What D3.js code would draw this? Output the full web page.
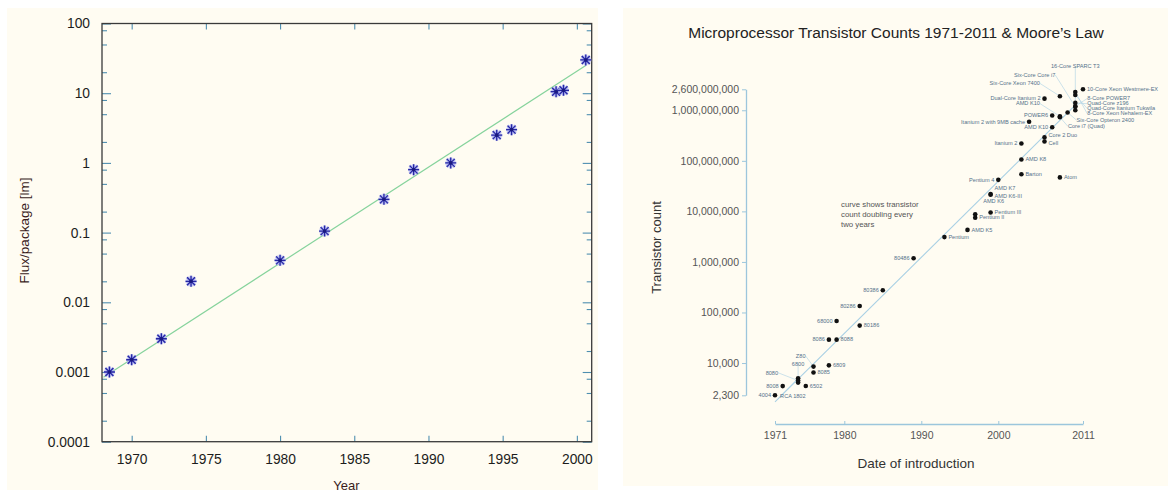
<!DOCTYPE html>
<html>
<head>
<meta charset="utf-8">
<script src="https://cdn.jsdelivr.net/npm/d3@7"></script>
<style>
  body { margin: 0; background: #ffffff; }
  svg { display: block; font-family: "Liberation Sans", Arial, sans-serif; }
</style>
</head>
<body>
<div class="board"></div>
<script>
// ---- left chart data (flux per package) ----
const fluxYears  = [1968.5, 1970, 1972, 1974, 1980, 1983, 1987, 1989, 1991.5, 1994.6, 1995.6, 1998.6, 1999.1, 2000.6];
const fluxValues = [0.001, 0.0015, 0.003, 0.02, 0.04, 0.105, 0.3, 0.8, 1.0, 2.5, 3.0, 10.5, 11, 30];
const fitYears   = [1968.1, 2000.6];
const fitValues  = [0.00084, 25];
const fluxTicks  = [0.0001, 0.001, 0.01, 0.1, 1, 10, 100];
const fluxTickLabels = ["0.0001", "0.001", "0.01", "0.1", "1", "10", "100"];
const minorSteps = [2, 5, 8];
const yearTicks  = [1970, 1975, 1980, 1985, 1990, 1995, 2000];

// ---- right chart data (transistor counts) ----
const chipNames = ["4004", "8008", "RCA 1802", "6800", "8080", "6502", "Z80", "8085", "6809", "8086",
  "8088", "68000", "80186", "80286", "80386", "80486", "Pentium", "AMD K5", "Pentium II", "AMD K6",
  "Pentium III", "AMD K6-III", "AMD K7", "Pentium 4", "Barton", "Atom", "AMD K8", "Itanium 2", "Cell", "Core 2 Duo",
  "Itanium 2 with 9MB cache", "AMD K10", "POWER6", "Core i7 (Quad)", "AMD K10", "Six-Core Opteron 2400",
  "Dual-Core Itanium 2", "Six-Core Xeon 7400", "Six-Core Core i7", "8-Core POWER7", "Quad-Core z196",
  "Quad-Core Itanium Tukwila", "8-Core Xeon Nehalem-EX", "16-Core SPARC T3", "10-Core Xeon Westmere-EX"];
const chipYears = [1971, 1972, 1974, 1974, 1974, 1975, 1976, 1976, 1978, 1978,
  1979, 1979, 1982, 1982, 1985, 1989, 1993, 1996, 1997, 1997,
  1999, 1999, 1999, 2000, 2003, 2008, 2003, 2003, 2006, 2006,
  2004, 2007, 2007, 2008, 2008, 2009,
  2006, 2008, 2010, 2010, 2010,
  2010, 2010, 2010, 2011];
const chipCounts = [2300, 3500, 5000, 4100, 4500, 3510, 8500, 6500, 9000, 29000,
  29000, 68000, 55000, 134000, 275000, 1180000, 3100000, 4300000, 7500000, 8800000,
  9500000, 21300000, 22000000, 42000000, 54300000, 47000000, 105900000, 220000000, 241000000, 291000000,
  592000000, 463000000, 789000000, 731000000, 758000000, 904000000,
  1700000000, 1900000000, 1170000000, 1200000000, 1400000000,
  2000000000, 2300000000, 1000000000, 2600000000];
const mooreYears  = [1971, 2010];
const mooreCounts = [1700, 1260000000];
const countTicks  = [2300, 10000, 100000, 1000000, 10000000, 100000000, 1000000000, 2600000000];
const dateTicks   = [1971, 1980, 1990, 2000, 2011];
const noteLines   = ["curve shows transistor", "count doubling every", "two years"];

const svg = d3.select('.board').append('svg')
  .attr('width', 1168)
  .attr('height', 493);

// cream panels
svg.append('rect').attr('x', 7).attr('y', 8).attr('width', 591).attr('height', 482).attr('fill', '#fffcf2');
svg.append('rect').attr('x', 623).attr('y', 8).attr('width', 545).attr('height', 478).attr('fill', '#fffcf2');

// ================= left chart =================
const xL = d3.scaleLinear().domain([1968, 2001]).range([102, 591.7]);
const yL = d3.scaleLog().domain([0.0001, 100]).range([441.7, 23.5]);
const tickBlue = '#4f8fb0';

const minorVals = [];
fluxTicks.slice(0, -1).forEach(t => minorSteps.forEach(m => minorVals.push(t * m)));

const left = svg.append('g');

// minor y ticks, left and right
left.append('g').attr('transform', `translate(${xL.range()[0]},0)`)
  .call(d3.axisLeft(yL).tickValues(minorVals).tickSize(-5).tickFormat(''));
left.append('g').attr('transform', `translate(${xL.range()[1]},0)`)
  .call(d3.axisRight(yL).tickValues(minorVals).tickSize(-5).tickFormat(''));
// major y ticks
left.append('g').attr('class', 'ylab').attr('transform', `translate(${xL.range()[0]},0)`)
  .call(d3.axisLeft(yL).tickValues(fluxTicks).tickSize(-9).tickPadding(12)
    .tickFormat((d, i) => fluxTickLabels[i]));
left.append('g').attr('transform', `translate(${xL.range()[1]},0)`)
  .call(d3.axisRight(yL).tickValues(fluxTicks).tickSize(-9).tickFormat(''));
// x ticks, bottom and top
left.append('g').attr('class', 'xlab').attr('transform', `translate(0,${yL.range()[0]})`)
  .call(d3.axisBottom(xL).tickValues(yearTicks).tickSize(-6).tickPadding(13).tickFormat(d3.format('d')));
left.append('g').attr('transform', `translate(0,${yL.range()[1]})`)
  .call(d3.axisTop(xL).tickValues(yearTicks).tickSize(-6).tickFormat(''));

left.selectAll('.domain').remove();
left.selectAll('.tick line').attr('stroke', tickBlue).attr('stroke-width', 1.1);
left.selectAll('.tick text').attr('font-size', '13.8px').attr('fill', '#1c1c1c')
  .attr('font-family', '"Liberation Sans", Arial, sans-serif');

// frame
left.append('rect')
  .attr('x', xL.range()[0]).attr('y', yL.range()[1])
  .attr('width', xL.range()[1] - xL.range()[0])
  .attr('height', yL.range()[0] - yL.range()[1])
  .attr('fill', 'none').attr('stroke', '#3a3a3a').attr('stroke-width', 1.3);

// fit line
left.append('path')
  .datum(d3.zip(fitYears, fitValues))
  .attr('d', d3.line().x(d => xL(d[0])).y(d => yL(d[1])))
  .attr('fill', 'none').attr('stroke', '#86d39c').attr('stroke-width', 1.2);

// asterisks
const star = 'M-5.5,0H5.5M0,-5.5V5.5M-4,-4L4,4M-4,4L4,-4';
const stars = left.selectAll('g.star').data(d3.zip(fluxYears, fluxValues)).join('g')
  .attr('class', 'star')
  .attr('transform', d => `translate(${xL(d[0])},${yL(d[1])})`);
stars.append('path').attr('d', star).attr('stroke', '#b4b8f0').attr('stroke-width', 3).attr('fill', 'none');
stars.append('path').attr('d', star).attr('stroke', '#2626a4').attr('stroke-width', 1.3).attr('fill', 'none');
stars.append('circle').attr('r', 1.8).attr('fill', '#1a1a80');

// axis titles
left.append('text').text('Year')
  .attr('x', 346.5).attr('y', 489.5)
  .attr('text-anchor', 'middle').attr('font-size', '13px').attr('fill', '#3a1c1c');
left.append('text').text('Flux/package [lm]')
  .attr('transform', 'translate(29,230.5) rotate(-90)')
  .attr('text-anchor', 'middle').attr('font-size', '13.5px').attr('fill', '#3a1c1c');

// ================= right chart =================
const xR = d3.scaleLinear().domain([1971, 2011]).range([775, 1083]);
const yR = d3.scaleLog().domain([2300, 2600000000]).range([395.3, 89.3]);
const axisBlue = '#9cc6dc';

const right = svg.append('g');

right.append('text').text('Microprocessor Transistor Counts 1971-2011 & Moore\u2019s Law')
  .attr('x', 896).attr('y', 37.5)
  .attr('text-anchor', 'middle').attr('font-size', '15.5px').attr('fill', '#222');

right.append('g').attr('transform', `translate(746,0)`)
  .call(d3.axisLeft(yR).tickValues(countTicks).tickSize(4).tickSizeOuter(0).tickPadding(3)
    .tickFormat(d3.format(',')));
right.append('g').attr('transform', `translate(0,424)`)
  .call(d3.axisBottom(xR).tickValues(dateTicks).tickSize(-3).tickSizeOuter(0).tickPadding(8)
    .tickFormat(d3.format('d')));
right.selectAll('.domain').attr('stroke', axisBlue).attr('stroke-width', 1.3);
right.selectAll('.tick line').attr('stroke', axisBlue);
right.selectAll('.tick text').attr('font-size', '10.5px').attr('fill', '#555')
  .attr('font-family', '"Liberation Sans", Arial, sans-serif');

right.append('text').text('Transistor count')
  .attr('transform', 'translate(661,247.5) rotate(-90)')
  .attr('text-anchor', 'middle').attr('font-size', '13px').attr('fill', '#333');
right.append('text').text('Date of introduction')
  .attr('x', 916).attr('y', 468)
  .attr('text-anchor', 'middle').attr('font-size', '13.5px').attr('fill', '#333');

right.append('g').selectAll('text').data(noteLines).join('text')
  .text(d => d)
  .attr('x', 841).attr('y', (d, i) => 207 + i * 10)
  .attr('font-size', '7.8px').attr('fill', '#555');

// Moore's law line
right.append('path')
  .datum(d3.zip(mooreYears, mooreCounts))
  .attr('d', d3.line().x(d => xR(d[0])).y(d => yR(d[1])))
  .attr('fill', 'none').attr('stroke', '#a9d0e4').attr('stroke-width', 1.1);

// label placement: L = left of the dot, otherwise right; offsets for crowded ones
const leftSide = new Set(['4004', '8008', '8086', '68000', '80286', '80386', '80486', 'Pentium 4',
  'Itanium 2', 'Itanium 2 with 9MB cache', 'AMD K10|2007', 'POWER6', 'Dual-Core Itanium 2']);
const offsets = {
  'RCA 1802':   [-18, 20, 'start', true],
  '6800':       [0, -17, 'middle', true],
  '8080':       [-20, -6, 'end', true],
  'Z80':        [-8, -9, 'end', true],
  'AMD K6':     [8, -11, 'start', false],
  'AMD K7':     [4, -4.5, 'start', false],
  'AMD K6-III': [4, 3, 'start', false],
  'Cell':       [4, 3.5, 'start', false],
  'Core 2 Duo': [4, -0.5, 'start', false],
  'Core i7 (Quad)': [8, 11, 'start', true],
  'AMD K10|2008':   [-20, -11, 'end', true],
  'Six-Core Opteron 2400': [9, 9.5, 'start', true],
  'Six-Core Xeon 7400': [-20, -11, 'end', true],
  'Six-Core Core i7':   [-20, -30, 'end', true],
  '16-Core SPARC T3':   [0, -42, 'middle', true],
  '8-Core POWER7':      [12, -6, 'start', true],
  'Quad-Core z196':     [12, 2.6, 'start', true],
  'Quad-Core Itanium Tukwila': [12, 15.4, 'start', true],
  '8-Core Xeon Nehalem-EX':    [12, 23.5, 'start', true]
};

const chips = chipNames.map((n, i) => {
  const key = n === 'AMD K10' ? n + '|' + chipYears[i] : n;
  let place = offsets[key];
  if (!place) place = leftSide.has(key) ? [-4, 1.8, 'end', false] : [4, 1.8, 'start', false];
  return { name: n, year: chipYears[i], count: chipCounts[i], place: place };
});

right.append('g').selectAll('line').data(chips.filter(c => c.place[3])).join('line')
  .attr('x1', c => xR(c.year)).attr('y1', c => yR(c.count))
  .attr('x2', c => xR(c.year) + c.place[0]).attr('y2', c => yR(c.count) + c.place[1] - 1.8)
  .attr('stroke', '#a9d0e4').attr('stroke-width', 0.6);

right.append('g').selectAll('circle').data(chips).join('circle')
  .attr('cx', c => xR(c.year)).attr('cy', c => yR(c.count))
  .attr('r', 2.3).attr('fill', '#111');

right.append('g').selectAll('text').data(chips).join('text')
  .text(c => c.name)
  .attr('x', c => xR(c.year) + c.place[0])
  .attr('y', c => yR(c.count) + c.place[1])
  .attr('text-anchor', c => c.place[2])
  .attr('font-size', '5.6px').attr('fill', '#54718a');
</script>
</body>
</html>
